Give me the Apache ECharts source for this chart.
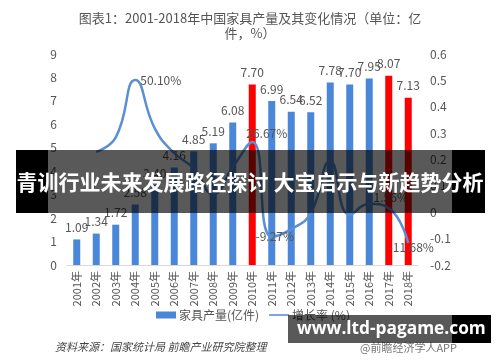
<!DOCTYPE html>
<html><head><meta charset="utf-8">
<script src="https://cdn.jsdelivr.net/npm/echarts@6/dist/echarts.min.js"></script>
<style>html,body{margin:0;padding:0;background:#fff}#c{width:500px;height:362px}</style>
</head><body><div id="c"></div>
<script>
var years = ['2001年','2002年','2003年','2004年','2005年','2006年','2007年','2008年','2009年','2010年','2011年','2012年','2013年','2014年','2015年','2016年','2017年','2018年'];
var output = [1.09,1.34,1.72,2.58,3.40,4.16,4.85,5.19,6.08,7.70,6.99,6.54,6.52,7.78,7.70,7.95,8.07,7.13];
var growth = [null,0.229,0.284,0.501,0.318,0.224,0.166,0.070,0.171,0.2667,-0.0927,-0.064,-0.003,0.193,-0.010,0.032,0.0156,-0.1168];
var growthLabelYears = ['2004年','2010年','2011年','2017年','2018年'];
var highlightYears = ['2010年','2017年','2018年'];
var leftTicks = {min:0,max:9,interval:1};
var rightTicks = {min:-0.2,max:0.6,interval:0.1};

var labelPos = {
  '2004年': {position:'right', offset:[0,0]},
  '2010年': {position:'right', offset:[-11,-8]},
  '2011年': {position:'inside', offset:[3,0]},
  '2017年': {position:'top', offset:[2,0]},
  '2018年': {position:'inside', offset:[3,4]}
};

var chart = echarts.init(document.getElementById('c'));
var font = '"Noto Sans CJK SC","Noto Sans",sans-serif';
chart.setOption({
  animation:false,
  textStyle:{fontFamily:font},
  title:{
    text:'图表1：2001-2018年中国家具产量及其变化情况（单位：亿\n件，%）',
    left:'center', top:6,
    textStyle:{fontSize:13, fontWeight:'normal', color:'#555', lineHeight:15, fontFamily:font}
  },
  legend:{
    bottom:36, left:151, itemGap:10, itemWidth:20, itemHeight:7,
    textStyle:{fontSize:12,color:'#555', padding:[0,0,0,-2]},
    data:[{name:'家具产量(亿件)', icon:'rect'},{name:'增长率 (%)', icon:'path://M0,0h20v1.6h-20z'}]
  },
  grid:{left:67, right:82, top:54, bottom:97},
  xAxis:{
    type:'category', data:years,
    axisLine:{lineStyle:{color:'#d9d9d9'}},
    axisTick:{show:false},
    axisLabel:{rotate:90, fontSize:11, color:'#555', margin:6, interval:0}
  },
  yAxis:[
    {type:'value', min:leftTicks.min, max:leftTicks.max, interval:leftTicks.interval,
     axisLine:{show:false}, axisTick:{show:false}, splitLine:{show:false},
     axisLabel:{fontSize:12,color:'#555', margin:10}},
    {type:'value', min:rightTicks.min, max:rightTicks.max, interval:rightTicks.interval,
     axisLine:{show:false}, axisTick:{show:false}, splitLine:{show:false},
     axisLabel:{fontSize:12,color:'#555', margin:12,
       formatter:function(v){return String(parseFloat(v.toFixed(1)));}}}
  ],
  series:[
    {name:'家具产量(亿件)', type:'bar', yAxisIndex:0, barWidth:7,
     data:output.map(function(v,i){
       return {value:v, itemStyle:{color: highlightYears.indexOf(years[i])>=0 ? '#ff0000' : '#4a87d9'}};
     }),
     itemStyle:{color:'#4a87d9'},
     label:{show:true, position:'top', distance:6, fontSize:12, color:'#555',
       formatter:function(p){return p.value.toFixed(2);}}
    },
    {name:'增长率 (%)', type:'line', yAxisIndex:1, smooth:0.5, symbol:'circle', symbolSize:0.1, showSymbol:true,
     lineStyle:{width:2.5, color:'#5b8fd4'}, itemStyle:{color:'#5b8fd4'},
     label:{show:false},
     data:growth.map(function(v,i){
       var y = years[i];
       if (v!==null && growthLabelYears.indexOf(y)>=0){
         var lp = labelPos[y];
         return {value:v, label:{show:true, position:lp.position, offset:lp.offset, fontSize:12, color:'#555',
           formatter:function(p){return (p.value*100).toFixed(2)+'%';}}};
       }
       return v===null ? '-' : v;
     })
    }
  ],
  graphic:[
    {type:'text', z:100, left:55, top:341, style:{text:'资料来源：国家统计局 前瞻产业研究院整理', fill:'#444', font:'italic 11px "Noto Sans CJK SC"'}},
    {type:'text', z:100, left:360, top:342, style:{text:'@前瞻经济学人APP', fill:'#777', font:'11px "Noto Sans CJK SC"'}},
    {type:'rect', z:100, shape:{x:16,y:150,width:32,height:63}, style:{fill:'#000'}},
    {type:'rect', z:100, shape:{x:48,y:150,width:404,height:63}, style:{fill:'rgba(0,0,0,0.65)'}},
    {type:'rect', z:100, shape:{x:452,y:150,width:33,height:63}, style:{fill:'#000'}},
    {type:'text', z:101, x:250, y:182, style:{text:'青训行业未来发展路径探讨 大宝启示与新趋势分析', fill:'#fff', font:'bold 21px "Noto Sans CJK SC"', align:'center', verticalAlign:'middle'}},
    {type:'rect', z:100, shape:{x:288,y:315,width:164,height:28}, style:{fill:'rgba(0,0,0,0.65)'}},
    {type:'rect', z:100, shape:{x:452,y:315,width:39,height:28}, style:{fill:'#000'}},
    {type:'text', z:101, x:297, y:329, style:{text:'www.ltd-pagame.com', fill:'#fff', font:'bold 17.3px "Open Sans","Noto Sans",sans-serif', verticalAlign:'middle'}}
  ]
});
</script></body></html>
